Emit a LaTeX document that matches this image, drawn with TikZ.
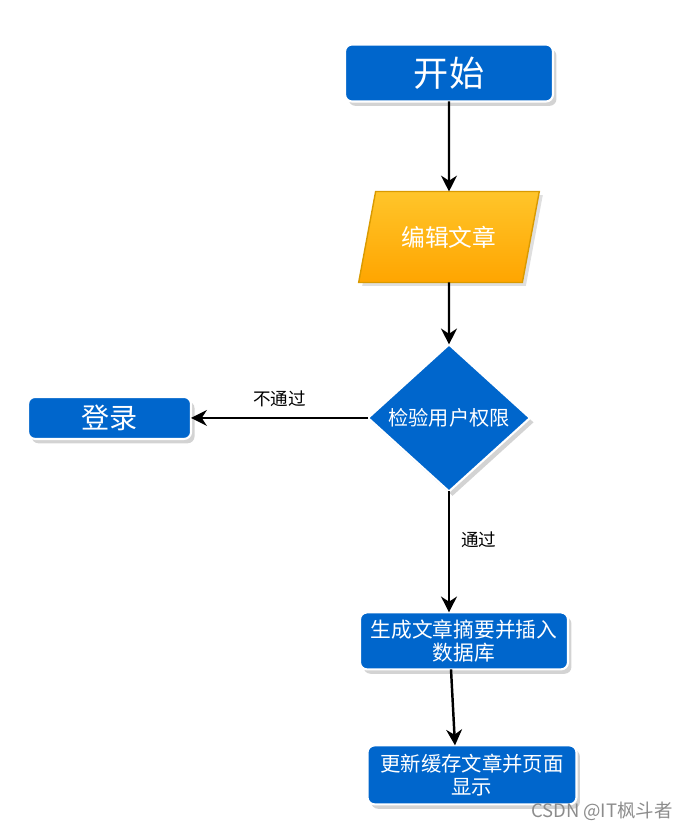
\documentclass[tikz,border=0pt]{standalone}
\usepackage{fontspec}
\setmainfont{Noto Sans CJK SC}
\usetikzlibrary{shapes.geometric,arrows.meta,positioning,shadows,calc}
\definecolor{boxblue}{HTML}{0066CC}
\definecolor{ioorange}{HTML}{FFA500}
\definecolor{iotop}{HTML}{FFC52A}
\definecolor{ioedge}{HTML}{D99A00}
\tikzset{
    block/.style={
        draw=white,
        line width=1.2pt,
        fill=boxblue,
        text=white,
        rectangle,
        rounded corners=4pt,
        align=center,
        outer sep=0pt,
        drop shadow={opacity=0.35, shadow xshift=2pt, shadow yshift=-2.5pt}
    },
    inout/.style={
        draw=ioedge,
        line width=0.8pt,
        top color=iotop,
        bottom color=ioorange,
        text=white,
        trapezium,
        trapezium left angle=70,
        trapezium right angle=110,
        trapezium stretches=true,
        outer sep=0pt,
        drop shadow={opacity=0.25, shadow xshift=2pt, shadow yshift=-2pt}
    },
    decision/.style={
        draw=white,
        line width=1.2pt,
        fill=boxblue,
        text=white,
        diamond,
        inner sep=0pt,
        outer sep=0pt,
        drop shadow={opacity=0.35, shadow xshift=2pt, shadow yshift=-2.5pt}
    },
    flow/.style={
        draw=black,
        line width=1.4pt,
        -{Stealth[length=9pt,width=9pt]}
    },
    edgelabel/.style={
        font=\fontsize{10}{12}\selectfont,
        text=black
    },
}

\begin{document}
\begin{tikzpicture}[x=0.02cm, y=-0.02cm, node distance = 1.8cm and 3.5cm]
        \useasboundingbox (0,0) rectangle (692,829);

        % blocks
        \node[block, minimum width=4.16cm, minimum height=1.14cm,
              font=\fontsize{20}{24}\selectfont] (start) at (449,73) {开始};
        \node[inout, below= of start, minimum width=3.64cm, minimum height=1.82cm,
              font=\fontsize{13.5}{16}\selectfont] (edit) {编辑文章};
        \node[decision, below=1.24cm of edit, minimum width=3.24cm, minimum height=2.94cm,
              font=\fontsize{11.5}{13}\selectfont] (check) {检验用户权限};
        \node[block, left=3.54cm of check, minimum width=3.26cm, minimum height=0.84cm,
              font=\fontsize{16}{19}\selectfont] (login) {登录};
        \node[block, below=2.42cm of check, xshift=0.3cm, minimum width=4.16cm, minimum height=1.14cm,
              font=\fontsize{11.8}{14}\selectfont] (summary) {生成文章摘要并插入\\[-1pt]数据库};
        \node[block, below=1.52cm of summary, xshift=0.16cm, minimum width=4.18cm, minimum height=1.18cm,
              font=\fontsize{11.6}{14}\selectfont] (update) {更新缓存文章并页面\\[-1pt]显示};

        % watermark
        \node[text=black!45, font=\fontsize{10.5}{12}\selectfont, anchor=east] (mark) at (679,811) {CSDN @IT枫斗者};

        % lines
        \draw[flow] (start) -- (edit);
        \draw[flow] (edit) -- (check);
        \draw[flow] (check.west) -- node[edgelabel, above, pos=0.5, yshift=2pt] {不通过} (login.east);
        \draw[flow] (check.south) -- node[edgelabel, right, pos=0.4, xshift=3pt] {通过} (check.south |- summary.north);
        \draw[flow] ([xshift=-0.26cm]summary.south) -- ([xshift=-0.34cm]update.north);
    \end{tikzpicture}
\end{document}
